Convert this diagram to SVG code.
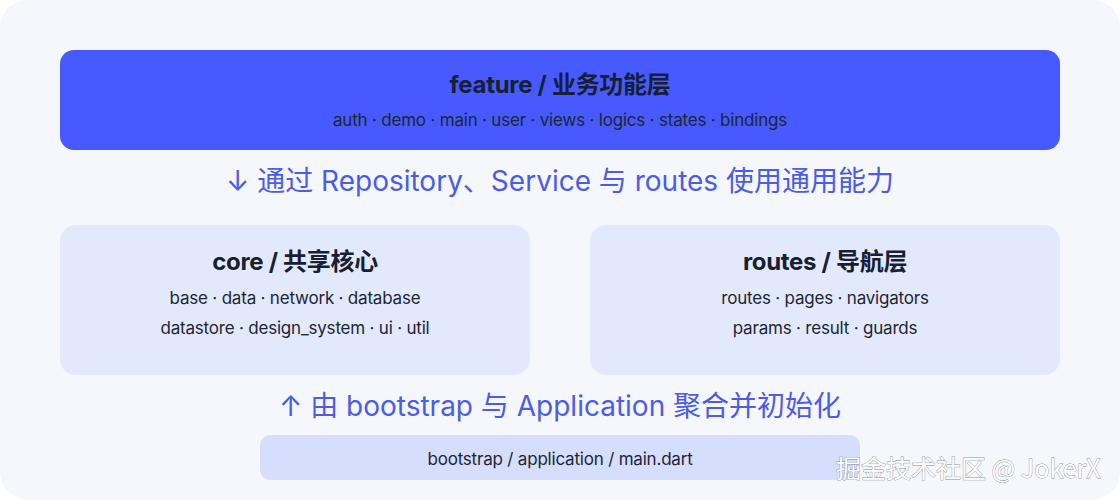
<svg xmlns="http://www.w3.org/2000/svg" width="1120" height="500" viewBox="0 0 1120 500">
  <style>
    .title { font-family: Inter, "Noto Sans CJK SC", sans-serif; font-weight: 700; font-size: 24px; fill: #172033; text-anchor: middle; letter-spacing: -0.3px; }
    .sub { font-family: Inter, "Noto Sans CJK SC", sans-serif; font-size: 17px; fill: #1c2536; text-anchor: middle; letter-spacing: -0.2px; }
    .flow { font-family: Inter, "Noto Sans CJK SC", sans-serif; font-size: 28px; fill: #4a5ce8; text-anchor: middle; }
    .panel { fill: #e3e9fd; }
    .wm { font-family: "Noto Sans CJK SC", sans-serif; font-size: 25px; fill: #ffffff; stroke: #8a8f99; stroke-width: 0.8px; paint-order: stroke; }
  </style>
  <rect x="0" y="0" width="1120" height="500" fill="#ffffff"/>
  <rect x="0" y="0" width="1120" height="500" rx="28" fill="#f5f7fd"/>

  <g id="feature">
    <rect x="60" y="50" width="1000" height="100" rx="14" fill="#465aff"/>
    <text class="title" x="560" y="93">feature / 业务功能层</text>
    <text class="sub" x="560" y="126">auth · demo · main · user · views · logics · states · bindings</text>
  </g>

  <g id="connectors">
    <text class="flow" x="560" y="191">↓ 通过 Repository、Service 与 routes 使用通用能力</text>
    <text class="flow" x="560" y="416">↑ 由 bootstrap 与 Application 聚合并初始化</text>
  </g>

  <g id="core">
    <rect class="panel" x="60" y="225" width="470" height="150" rx="16"/>
    <text class="title" x="295" y="270">core / 共享核心</text>
    <text class="sub" x="295" y="304">base · data · network · database</text>
    <text class="sub" x="295" y="334">datastore · design_system · ui · util</text>
  </g>

  <g id="routes">
    <rect class="panel" x="590" y="225" width="470" height="150" rx="16"/>
    <text class="title" x="825" y="270">routes / 导航层</text>
    <text class="sub" x="825" y="304">routes · pages · navigators</text>
    <text class="sub" x="825" y="334">params · result · guards</text>
  </g>

  <g id="bootstrap">
    <rect x="260" y="435" width="600" height="45" rx="10" fill="#d6defd"/>
    <text class="sub" x="560" y="465">bootstrap / application / main.dart</text>
  </g>

  <text class="wm" x="836" y="478">掘金技术社区 @ JokerX</text>
</svg>
